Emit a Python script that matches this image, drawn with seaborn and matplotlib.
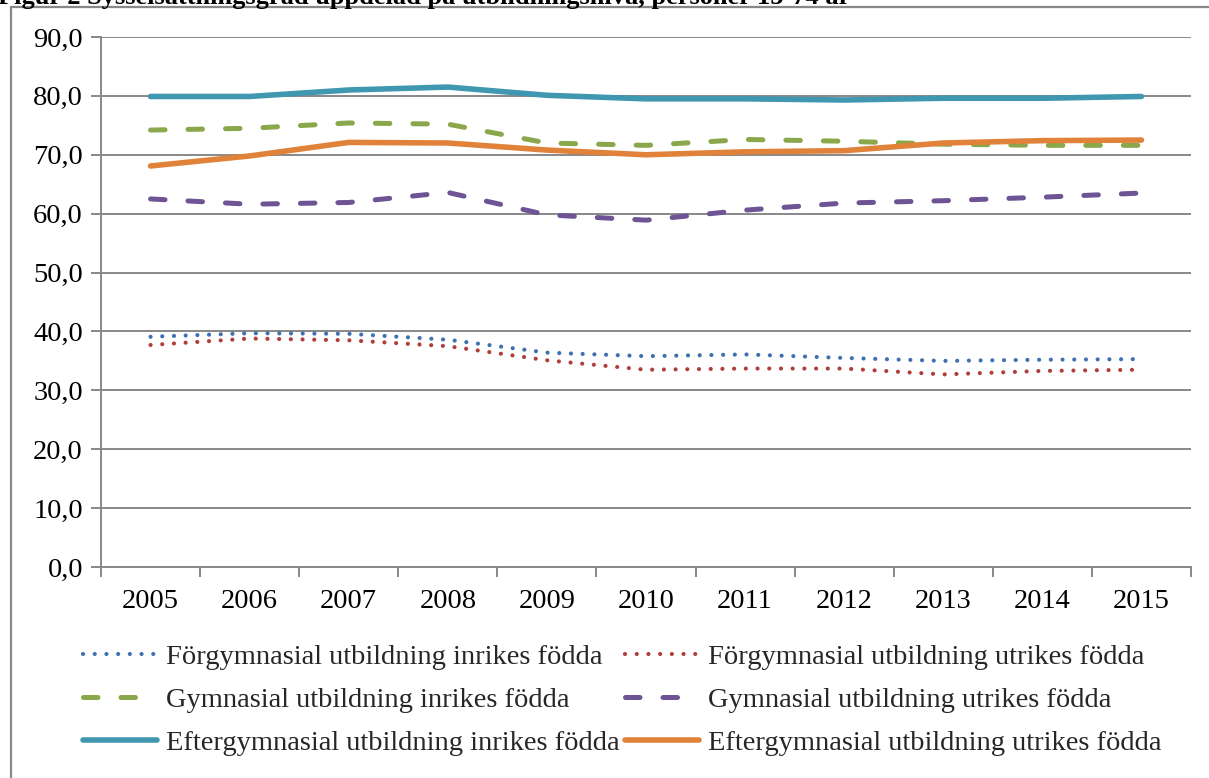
import matplotlib
matplotlib.use("Agg")
import matplotlib.pyplot as plt
import seaborn as sns
import pandas as pd
from matplotlib.lines import Line2D
from matplotlib.ticker import FixedLocator

years = [2005, 2006, 2007, 2008, 2009, 2010, 2011, 2012, 2013, 2014, 2015]
forgym_inrikes = [39.1, 39.7, 39.6, 38.6, 36.4, 35.8, 36.1, 35.5, 35.0, 35.2, 35.3]
forgym_utrikes = [37.7, 38.8, 38.5, 37.5, 35.1, 33.5, 33.7, 33.7, 32.7, 33.3, 33.5]
gym_inrikes = [74.2, 74.5, 75.4, 75.2, 72.0, 71.6, 72.6, 72.3, 71.8, 71.6, 71.6]
gym_utrikes = [62.5, 61.6, 61.9, 63.6, 59.8, 58.9, 60.6, 61.8, 62.2, 62.8, 63.5]
efter_inrikes = [79.9, 79.9, 81.0, 81.5, 80.1, 79.5, 79.5, 79.3, 79.6, 79.6, 79.9]
efter_utrikes = [68.1, 69.8, 72.1, 72.0, 70.8, 70.0, 70.5, 70.7, 72.0, 72.4, 72.5]

labels = [
    "Förgymnasial utbildning inrikes födda",
    "Förgymnasial utbildning utrikes födda",
    "Gymnasial utbildning inrikes födda",
    "Gymnasial utbildning utrikes födda",
    "Eftergymnasial utbildning inrikes födda",
    "Eftergymnasial utbildning utrikes födda",
]
series = [forgym_inrikes, forgym_utrikes, gym_inrikes, gym_utrikes, efter_inrikes, efter_utrikes]
ytick_values = [0, 10, 20, 30, 40, 50, 60, 70, 80, 90]
ytick_labels = ["0,0", "10,0", "20,0", "30,0", "40,0", "50,0", "60,0", "70,0", "80,0", "90,0"]
title = "Figur 2 Sysselsättningsgrad uppdelad på utbildningsnivå, personer 15-74 år"

colors = ["#3F70B0", "#B03E3B", "#8AA84B", "#6E5494", "#3F97B0", "#E0823A"]
kinds = ["dot", "dot", "dash", "dash", "solid", "solid"]

sns.set_theme(style="white")
plt.rcParams["font.family"] = ["Liberation Serif", "DejaVu Serif"]

FS = 20.5
W, H = 1209, 778
fig = plt.figure(figsize=(W / 100, H / 100), dpi=100)
ax = fig.add_axes([101 / W, 1 - 567 / H, (1191 - 101) / W, (567 - 37) / H])

handles = []
for vals, lab, col, kind in zip(series, labels, colors, kinds):
    df = pd.DataFrame({"year": years, "value": vals})
    sns.lineplot(data=df, x="year", y="value", ax=ax, color=col, label=lab, legend=False)
    ln = ax.lines[-1]
    if kind == "dot":
        ln.set_linewidth(3.0)
        ln.set_dashes((0.01, 2.8))
        ln.set_dash_capstyle("round")
    elif kind == "dash":
        ln.set_linewidth(3.6)
        ln.set_dashes((2.9, 4.6))
        ln.set_dash_capstyle("round")
    else:
        ln.set_linewidth(4.0)
        ln.set_solid_capstyle("round")
    ln.set_solid_joinstyle("round")
    handles.append(ln)

ax.set_xlim(2004.5, 2015.5)
ax.set_ylim(0, 90)
ax.set_yticks(ytick_values)
ax.set_yticklabels(ytick_labels)
ax.set_xticks(years)
ax.set_xticklabels([str(y) for y in years])
ax.xaxis.set_minor_locator(FixedLocator([y - 0.5 for y in years] + [years[-1] + 0.5]))
ax.set_xlabel("")
ax.set_ylabel("")

grid_col = "#888888"
ax.yaxis.grid(True, color=grid_col, linewidth=1.4)
ax.xaxis.grid(False)
ax.set_axisbelow(True)
for s in ["top", "right"]:
    ax.spines[s].set_visible(False)
for s in ["left", "bottom"]:
    ax.spines[s].set_color(grid_col)
    ax.spines[s].set_linewidth(1.4)

ax.tick_params(axis="y", which="major", left=True, length=7, width=1.4, color=grid_col,
               labelsize=FS, pad=6, labelcolor="black")
ax.tick_params(axis="x", which="major", bottom=False, length=0, labelsize=FS, pad=16,
               labelcolor="black")
ax.tick_params(axis="x", which="minor", bottom=True, length=7, width=1.4, color=grid_col)

order = [0, 2, 4, 1, 3, 5]
leg = fig.legend([handles[i] for i in order], [labels[i] for i in order],
                 loc="upper left", bbox_to_anchor=(72 / W, 1 - 633 / H), ncol=2,
                 frameon=False, fontsize=FS, handlelength=2.6, handletextpad=0.3,
                 columnspacing=0.2, labelspacing=0.6, borderaxespad=0)

# outer chart frame (partly outside the image)
fig.add_artist(Line2D([11 / W, 11 / W], [0, 1 - 7 / H], transform=fig.transFigure,
                      color=grid_col, linewidth=1.6))
fig.add_artist(Line2D([11 / W, 1.0], [1 - 7 / H, 1 - 7 / H], transform=fig.transFigure,
                      color=grid_col, linewidth=1.6))

fig.text(-2 / W, 1 - 4 / H, title, fontsize=19, fontweight="bold", va="baseline",
         ha="left", color="black")

fig.savefig("out.png", dpi=100)
